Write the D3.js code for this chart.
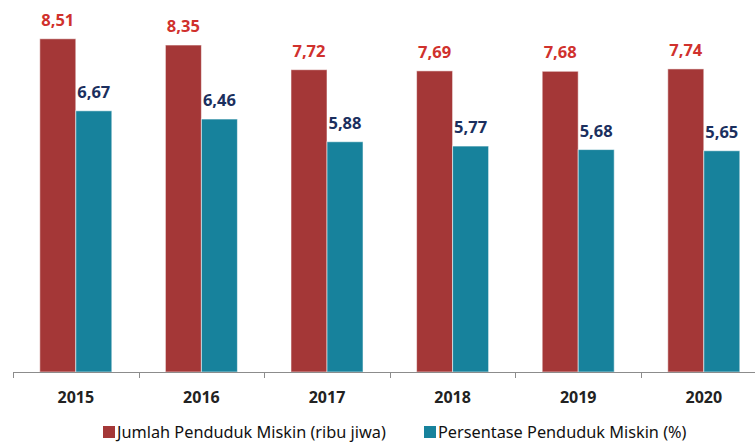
<!DOCTYPE html>
<html>
<head>
    <meta charset="utf-8">
    <style>
        body { margin: 0; background-color: #ffffff; }
        svg text { font-family: "Noto Sans", "DejaVu Sans", sans-serif; }
    </style>
    <script src="https://d3js.org/d3.v7.min.js"></script>
</head>
<body>
<script>
    // data
    var years = ["2015", "2016", "2017", "2018", "2019", "2020"];
    var jumlah = [8.51, 8.35, 7.72, 7.69, 7.68, 7.74];
    var persen = [6.67, 6.46, 5.88, 5.77, 5.68, 5.65];
    var seriesNames = ["Jumlah Penduduk Miskin (ribu jiwa)", "Persentase Penduduk Miskin (%)"];

    var barColors = ["#a43737", "#17829c"];
    var labelColors = ["#d0312d", "#1b2f5e"];

    var w = 755, h = 443;
    var axisY = 372;

    var svg = d3.select("body")
        .append("svg")
        .attr("width", w)
        .attr("height", h);

    var rows = years.map(function (y, i) {
        return { year: y, values: [jumlah[i], persen[i]] };
    });

    // x scales - plot runs a bit past the right edge like the original
    var x0 = d3.scaleBand()
        .domain(years)
        .range([13, 13 + 6 * 125.6]);

    var x1 = d3.scaleBand()
        .domain([0, 1])
        .range([0, x0.bandwidth()])
        .paddingOuter(0.744);

    var y = d3.scaleLinear()
        .domain([0, 9.5])
        .range([axisY, 0]);

    var groups = svg.append("g")
        .selectAll("g")
        .data(rows)
        .enter()
        .append("g")
        .attr("transform", function (d) { return "translate(" + x0(d.year) + ",0)"; });

    groups.selectAll("rect")
        .data(function (d) { return d.values.map(function (v, k) { return { k: k, v: v }; }); })
        .enter()
        .append("rect")
        .attr("x", function (d) { return x1(d.k); })
        .attr("y", function (d) { return y(d.v); })
        .attr("width", x1.bandwidth())
        .attr("height", function (d) { return axisY - y(d.v); })
        .attr("fill", function (d) { return barColors[d.k]; })
        .attr("stroke", "rgba(255,255,255,0.55)")
        .attr("stroke-width", 1);

    // value labels
    groups.selectAll("text")
        .data(function (d) { return d.values.map(function (v, k) { return { k: k, v: v }; }); })
        .enter()
        .append("text")
        .attr("x", function (d) { return x1(d.k) + x1.bandwidth() / 2; })
        .attr("y", function (d) { return y(d.v) - 13; })
        .attr("text-anchor", "middle")
        .style("font-size", "16.5px")
        .style("font-weight", "bold")
        .style("fill", function (d) { return labelColors[d.k]; })
        .text(function (d) { return d.v.toFixed(2).replace(".", ","); });

    // x axis line and ticks
    svg.append("line")
        .attr("x1", 13).attr("x2", w)
        .attr("y1", axisY + 0.5).attr("y2", axisY + 0.5)
        .attr("stroke", "#8c8c8c");

    svg.append("g")
        .selectAll("line")
        .data(years)
        .enter()
        .append("line")
        .attr("x1", function (d) { return Math.round(x0(d)) + 0.5; })
        .attr("x2", function (d) { return Math.round(x0(d)) + 0.5; })
        .attr("y1", axisY)
        .attr("y2", axisY + 6)
        .attr("stroke", "#8c8c8c");

    svg.append("g")
        .selectAll("text")
        .data(years)
        .enter()
        .append("text")
        .attr("x", function (d) { return x0(d) + x0.bandwidth() / 2; })
        .attr("y", 403)
        .attr("text-anchor", "middle")
        .style("font-size", "16px")
        .style("font-weight", "bold")
        .style("fill", "#222")
        .text(function (d) { return d; });

    // legend
    var legendX = [103, 424];
    var legend = svg.append("g")
        .selectAll("g")
        .data(seriesNames)
        .enter()
        .append("g")
        .attr("transform", function (d, i) { return "translate(" + legendX[i] + ",426)"; });

    legend.append("rect")
        .attr("width", 12)
        .attr("height", 12)
        .attr("fill", function (d, i) { return barColors[i]; });

    legend.append("text")
        .attr("x", 14)
        .attr("y", 12)
        .style("font-size", "16.3px")
        .style("fill", "#111")
        .text(function (d) { return d; });
</script>
</body>
</html>
